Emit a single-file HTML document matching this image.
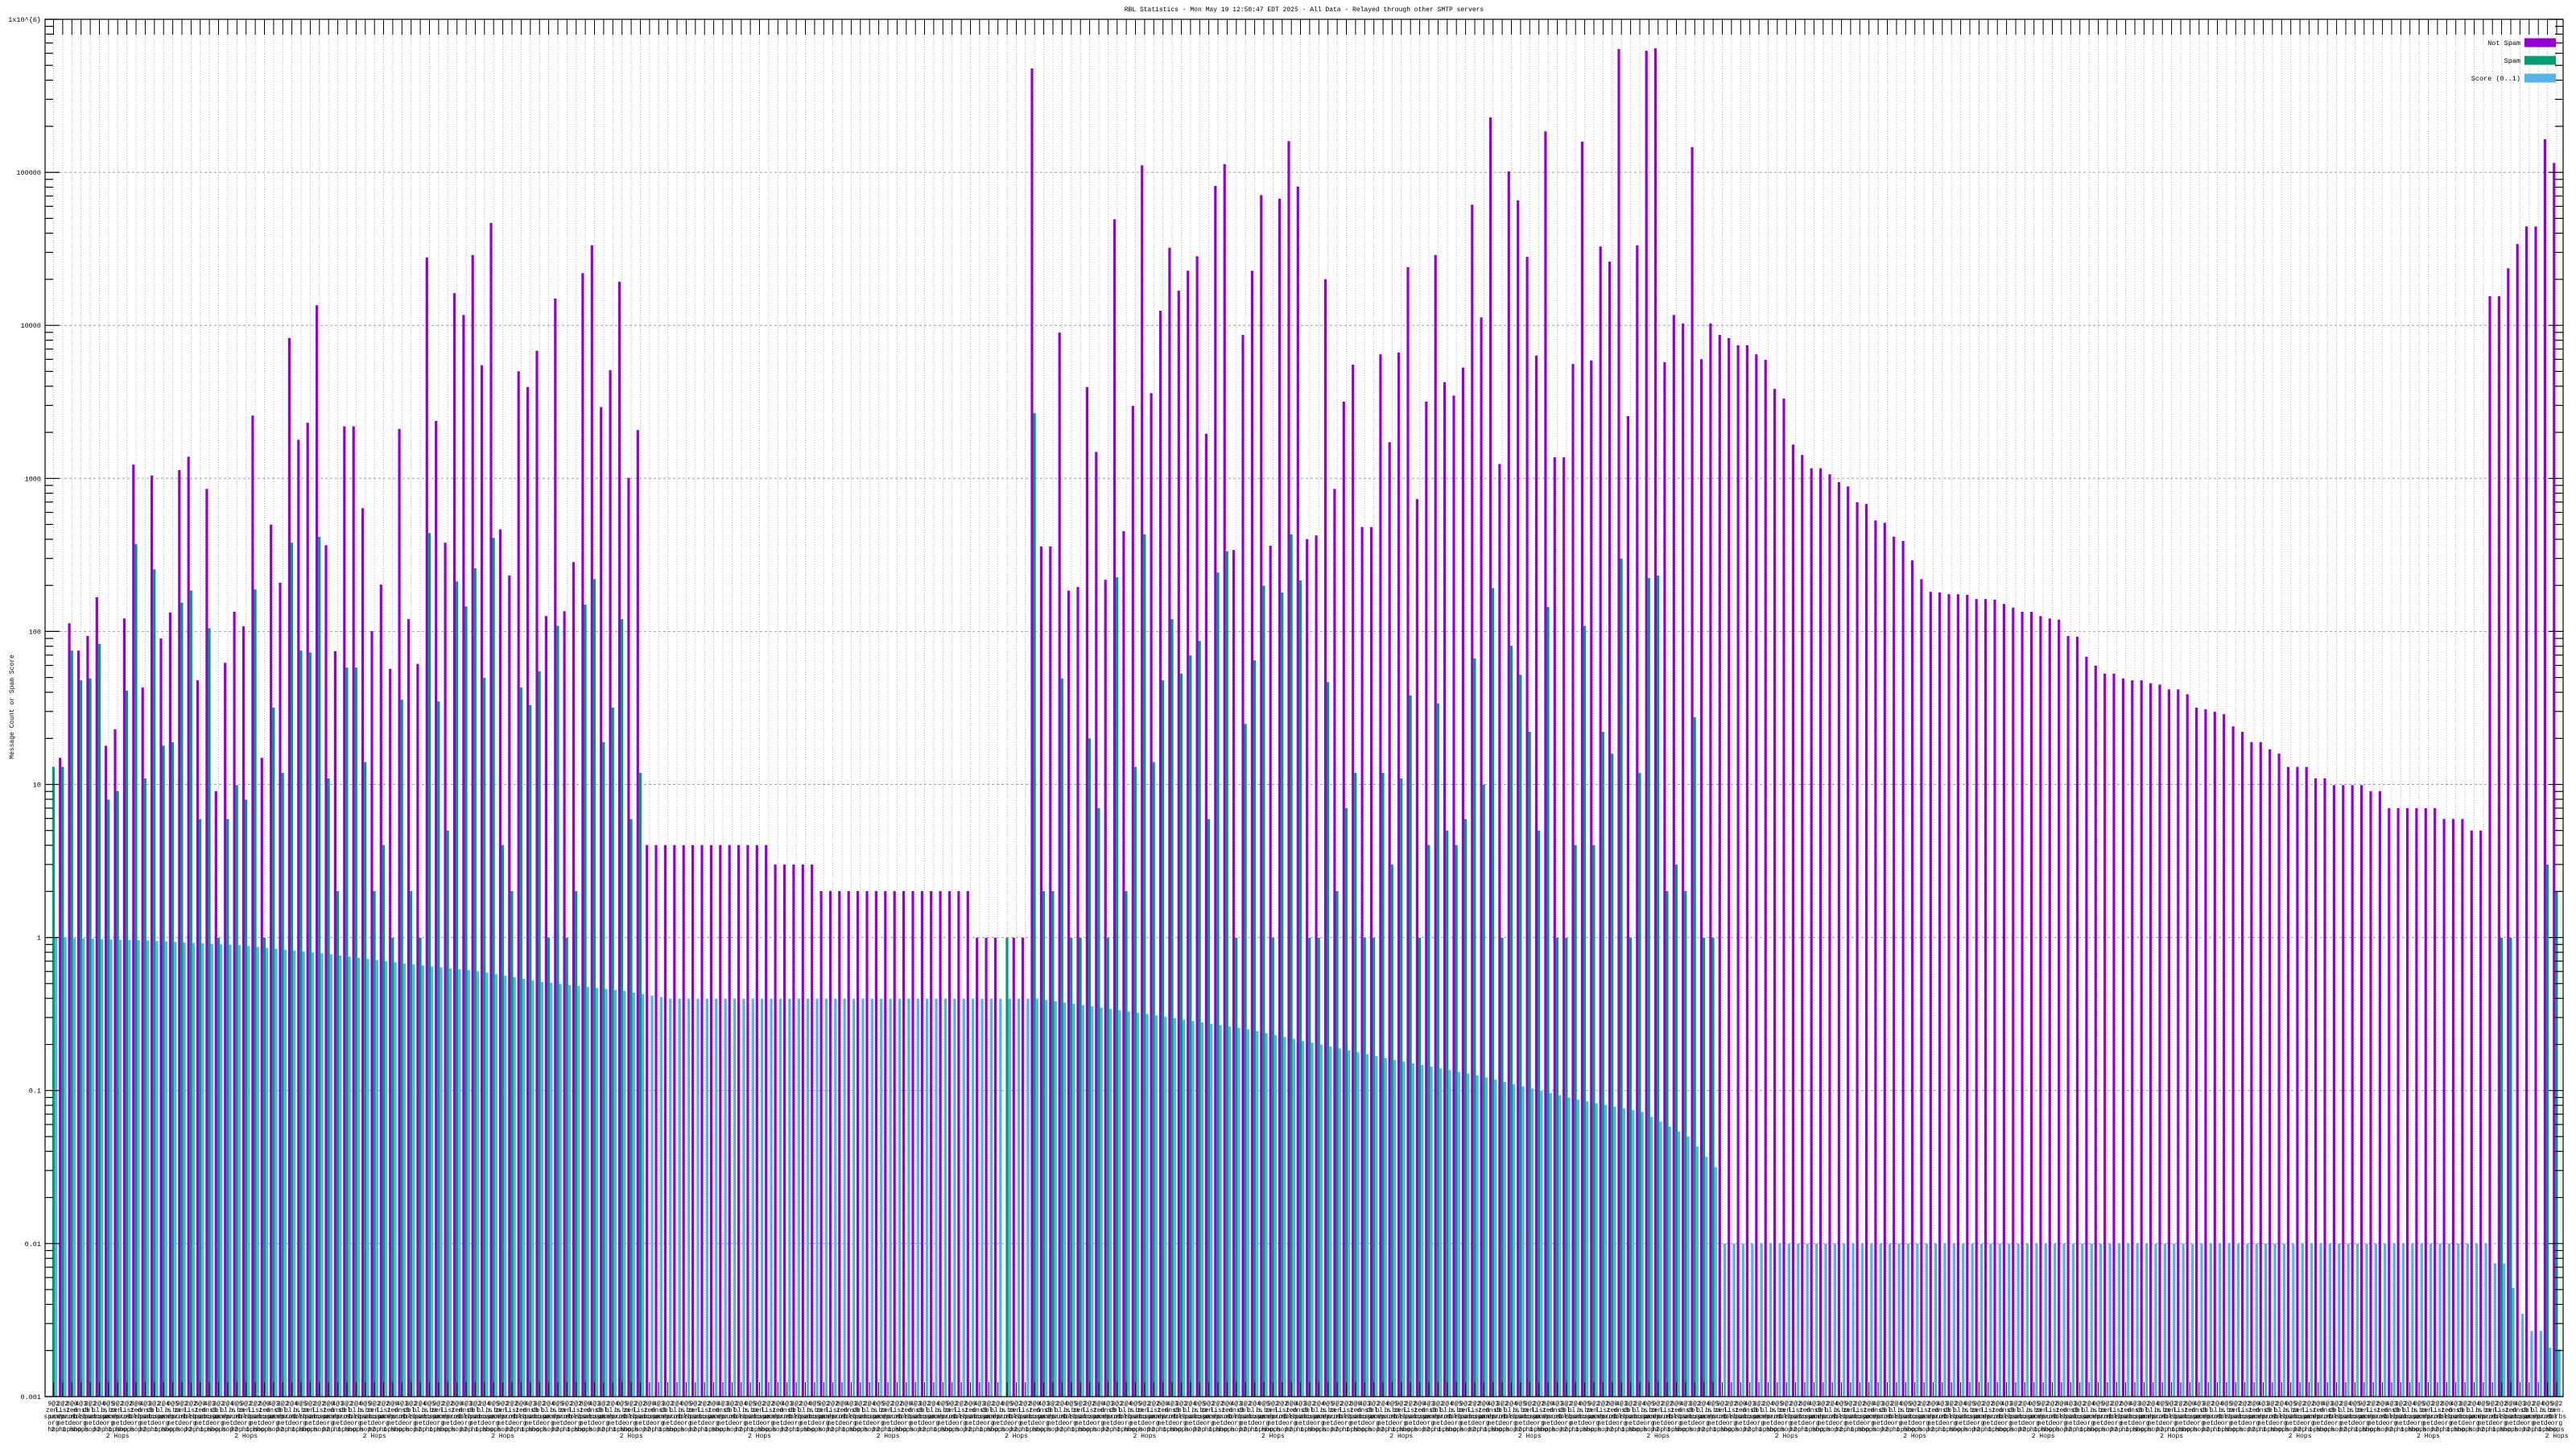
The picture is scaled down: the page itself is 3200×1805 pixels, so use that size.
<!DOCTYPE html>
<html><head><meta charset="utf-8">
<style>
html,body{margin:0;padding:0;background:#fff;}
svg text{font-family:"Liberation Mono","DejaVu Sans Mono",monospace;fill:#000;}
</style></head>
<body>
<svg id="c" xmlns="http://www.w3.org/2000/svg" width="3200" height="1800" viewBox="0 0 3200 1800"></svg>
<script>
var N=274;
var P=[0,1219,997,1042,1018,954,1199,1172,989,735,1103,753,1022,979,744,722,1091,775,1274,1062,978,1002,654,1219,834,930,526,694,666,472,868,1043,672,672,807,1010,933,1072,676,
990,1064,393,663,864,452,488,389,571,336,842,918,581,607,547,985,461,977,896,419,373,640,579,433,757,678];
for(var i=65;i<=78;i++)P[i]=1363;
for(i=79;i<=83;i++)P[i]=1395;
for(i=84;i<=100;i++)P[i]=1439;
P[101]=P[102]=P[103]=1516;P[104]=0;P[105]=P[106]=1516;
P=P.concat([81,870,870,517,943,937,607,714,925,330,
845,638,241,617,481,377,448,415,391,684,275,239,876,521,415,290,869,296,201,276,858,852,429,775,631,570,838,838,553,698,550,409,792,631,389,599,621,575,306,
492,162,734,251,299,392,555,185,723,723,569,202,563,375,400,49,655,373,52,48,566,488,502,211,561,502,521,526,538,538,553,562,610,626,702,719,741,741,751,
764,771,797,800,827,831,854,861,893,924,945,946,949,949,950,957,957,958,965,971,978,978,985,989,991,1018,1019,1052,1067,1080,1080,1088,1091,1091,1096,1098,1106,1106,1114,
1136,1139,1143,1147,1167,1176,1193,1193,1205,1212,1234,1234,1234,1253,1253,1264,1264,1264,1264,1274,1274,1302,1302,1302,1302,1302,1302,1320,1320,1320,1339,1339,457,457,411,371,342,342,198,237]);
var G=[1234,1234,1042,1091,1088,1031,1288,1274,1108,866,1253,908,1199,1193,963,943,1320,1005,1516,1320,1264,1288,941,1516,1136,1244,864,1042,1045,854,1253,1439,1070,1070,1226,1439,1363,1516,1123,
1439,1516,848,1126,1339,928,969,906,1087,856,1363,1439,1103,1132,1076,1516,1001,1516,1439,966,924,1193,1136,990,1320,1244];
for(i=65;i<=103;i++)G[i]=0;G[104]=1516;G[105]=G[106]=0;
G=G.concat([650,1439,1439,1088,1516,1516,1187,1302,1516,921,
1439,1234,850,1226,1091,990,1080,1050,1026,1320,913,878,1516,1163,1058,935,1516,946,850,926,1516,1516,1094,1439,1302,1244,1516,1516,1244,1395,1253,1116,1516,1363,1129,1339,1363,1320,1055,
1263,939,1516,1034,1082,1176,1339,970,1516,1516,1363,1001,1363,1176,1212,890,1516,1244,922,918,1439,1395,1439,1152,1516,1516]);
for(i=182;i<=273;i++)G[i]=0;G[267]=1516;G[268]=1516;G[272]=1395;G[273]=1439;
var bk=[[0,0],[10,-0.02],[20,-0.05],[30,-0.11],[38,-0.17],[46,-0.22],[53,-0.29],[62,-0.35],[67,-0.4],[107,-0.4],[119,-0.5],[130,-0.6],[146,-0.8],[155,-0.9],[166,-1.06],[173,-1.14],[178,-1.3],[181,-1.5],[182,-2],[265,-2],[266,-2.13],[267,-2.13],[268,-2.29],[269,-2.46],[270,-2.57],[271,-2.57],[272,-2.68],[273,-2.69]];
function blue(i){for(var k=0;k<bk.length-1;k++){if(i>=bk[k][0]&&i<=bk[k+1][0]){var a=bk[k],b=bk[k+1];if(b[0]==a[0])return a[1];return a[1]+(b[1]-a[1])*(i-a[0])/(b[0]-a[0]);}}return -2;}
var L=56,R=3184,T=24,B=1735,DEC=190.1,SP=11.39,X0=61.7;
function yv(lg){return T+(6-lg)*DEC;}
var s='';
for(var d=0;d<=9;d++){var y=T+d*DEC;s+='<line x1="'+L+'" x2="'+R+'" y1="'+y.toFixed(1)+'" y2="'+y.toFixed(1)+'" stroke="#a0a0a0" stroke-width="1" stroke-dasharray="3,3"/>';}
for(i=0;i<N;i++){var cx=X0+4.8+SP*i;s+='<line x1="'+cx.toFixed(1)+'" x2="'+cx.toFixed(1)+'" y1="43" y2="'+B+'" stroke="#b4b4b4" stroke-width="1" stroke-dasharray="1,2"/>';}
for(i=0;i<N;i++){var x=X0+SP*i;
 if(P[i]){var y=T+P[i]*0.7526;s+='<rect x="'+x.toFixed(1)+'" y="'+y.toFixed(1)+'" width="3.2" height="'+(B-y).toFixed(1)+'" fill="#9400d3"/>';}
 if(G[i]){var y=T+G[i]*0.7526;s+='<rect x="'+(x+3.1).toFixed(1)+'" y="'+y.toFixed(1)+'" width="3.2" height="'+(B-y).toFixed(1)+'" fill="#009e73"/>';}
 var yb=yv(blue(i));s+='<rect x="'+(x+6.3).toFixed(1)+'" y="'+yb.toFixed(1)+'" width="3.3" height="'+(B-yb).toFixed(1)+'" fill="#56b4e9"/>';
}
s+='<rect x="'+L+'" y="'+T+'" width="'+(R-L)+'" height="'+(B-T)+'" fill="none" stroke="#000" stroke-width="1.2"/>';
for(i=0;i<N;i++){var cx=X0+4.8+SP*i;s+='<line x1="'+cx.toFixed(1)+'" x2="'+cx.toFixed(1)+'" y1="'+T+'" y2="'+(T+19)+'" stroke="#000" stroke-width="1"/>';
 s+='<line x1="'+cx.toFixed(1)+'" x2="'+cx.toFixed(1)+'" y1="'+(B-18)+'" y2="'+B+'" stroke="#000" stroke-width="1"/>';}
var labs=['1x10^{6}','100000','10000','1000','100','10','1','0.1','0.01','0.001'];
for(d=0;d<=9;d++){var y=T+d*DEC;
 s+='<line x1="'+L+'" x2="'+(L+18)+'" y1="'+y.toFixed(1)+'" y2="'+y.toFixed(1)+'" stroke="#000" stroke-width="1.2"/>';
 s+='<line x1="'+(R-18)+'" x2="'+R+'" y1="'+y.toFixed(1)+'" y2="'+y.toFixed(1)+'" stroke="#000" stroke-width="1.2"/>';
 s+='<text x="51" y="'+(y+3).toFixed(1)+'" font-size="8.5" text-anchor="end">'+labs[d]+'</text>';
 if(d<9){for(var k=2;k<=9;k++){var ym=y+DEC-Math.log10(k)*DEC;
  s+='<line x1="'+L+'" x2="'+(L+10)+'" y1="'+ym.toFixed(1)+'" y2="'+ym.toFixed(1)+'" stroke="#000" stroke-width="1.2"/>';
  s+='<line x1="'+(R-10)+'" x2="'+R+'" y1="'+ym.toFixed(1)+'" y2="'+ym.toFixed(1)+'" stroke="#000" stroke-width="1.2"/>';}}
}
s+='<text x="1620" y="14" font-size="8" text-anchor="middle">RBL Statistics - Mon May 19 12:50:47 EDT 2025 - All Data - Relayed through other SMTP servers</text>';
s+='<text x="0" y="0" font-size="8" text-anchor="middle" transform="translate(17,878) rotate(-90)">Message Count or Spam Score</text>';
var lg=[['Not Spam','#9400d3',53],['Spam','#009e73',75],['Score (0..1)','#56b4e9',97]];
for(k=0;k<3;k++){s+='<text x="3131" y="'+(lg[k][2]+3)+'" font-size="8.5" text-anchor="end">'+lg[k][0]+'</text>';
 s+='<rect x="3136" y="'+(lg[k][2]-5.5)+'" width="39" height="11" fill="'+lg[k][1]+'"/>';}
var r1=['9@2','2@2','8@0','4@3','3@2','2@4','0@5'],r2=['zen.','bl.s','dnsb','list','b.ba','cbl.','zen'],r3=['spamh','abuse','spamc','sorbs','surbl','uceprot'],r4=['org','ch','net','com','de','org'],r5=['hop','2 hops','1 hop','hops','hop'];
for(i=0;i<N;i++){var cx=(X0+4.8+SP*i).toFixed(1);
 s+='<text x="'+cx+'" y="1746" font-size="8" text-anchor="middle">'+r1[i%7]+'</text>';
 s+='<text x="'+cx+'" y="1754" font-size="8" text-anchor="middle">'+r2[(i*3)%7]+'</text>';
 s+='<text x="'+cx+'" y="1762" font-size="8" text-anchor="middle">'+r3[(i*5)%6]+'</text>';
 s+='<text x="'+cx+'" y="1770" font-size="8" text-anchor="middle">'+r4[(i*2)%6]+'</text>';
 s+='<text x="'+cx+'" y="1778" font-size="8" text-anchor="middle">'+r5[(i)%5]+'</text>';
 if(i%14==7)s+='<text x="'+cx+'" y="1786" font-size="8" text-anchor="middle">2 Hops</text>';
}
document.getElementById('c').innerHTML=s;
</script>
</body></html>
